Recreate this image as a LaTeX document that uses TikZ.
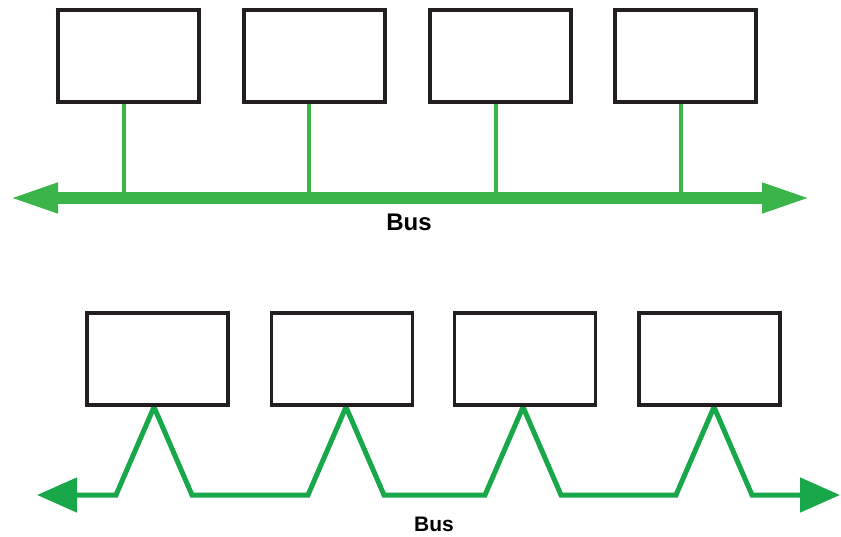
\documentclass[tikz,border=0pt]{standalone}
\usepackage{fontspec}
\setmainfont{Liberation Sans}
\usetikzlibrary{arrows.meta,calc}
\definecolor{busgreen}{HTML}{3BB54A}
\definecolor{linkgreen}{HTML}{18A84A}
\definecolor{boxline}{HTML}{231F20}
\begin{document}
\begin{tikzpicture}[x=1pt,y=-1pt,
  station/.style={draw=boxline,line width=3.5pt,fill=white,minimum width=141pt,minimum height=92pt,inner sep=0pt},
  trunk/.style={busgreen,line width=12pt},
  drop/.style={busgreen,line width=4.5pt},
  chain/.style={linkgreen,line width=5pt,line join=miter},
  buslabel/.style={font=\bfseries,inner sep=0pt}]
\useasboundingbox (0,0) rectangle (841,536);

% ---- shared bus with drop lines ----
\coordinate (tl) at (8,198);
\coordinate (tr) at (812,198);
\foreach \i/\x/\s in {1/128.5/124,2/314.5/309,3/500.5/496,4/685.5/681}{
  \coordinate (d\i) at (\s,198);
  \draw[drop] (\s,104) -- (d\i);
}
\draw[trunk,{Triangle[length=50pt,width=27pt]}-{Triangle[length=50pt,width=27pt]}] (tl) -- (tr);
\foreach \i/\x in {1/128.5,2/314.5,3/500.5,4/685.5}
  \node[station] (a\i) at (\x,56) {};
\node[buslabel,font=\fontsize{24}{24}\selectfont\bfseries] (lab1) at (409,222) {Bus};

% ---- daisy chained bus ----
\coordinate (bl) at (37,495);
\coordinate (br) at (840,495);
\draw[chain,{Triangle[length=40pt,width=34pt]}-{Triangle[length=40pt,width=34pt]}] (bl)
  -- (116,495)
  -- (154,407) -- (192,495) -- (308,495)
  -- (346,407) -- (384,495) -- (485,495)
  -- (523,407) -- (561,495) -- (676,495)
  -- (714,407) -- (752,495) -- (br);
\foreach \i/\x in {1/157.5,2/342,3/525,4/709.5}
  \node[station] (b\i) at (\x,359) {};
\node[buslabel,font=\fontsize{21}{21}\selectfont\bfseries] (lab2) at (434,524) {Bus};
\end{tikzpicture}
\end{document}
